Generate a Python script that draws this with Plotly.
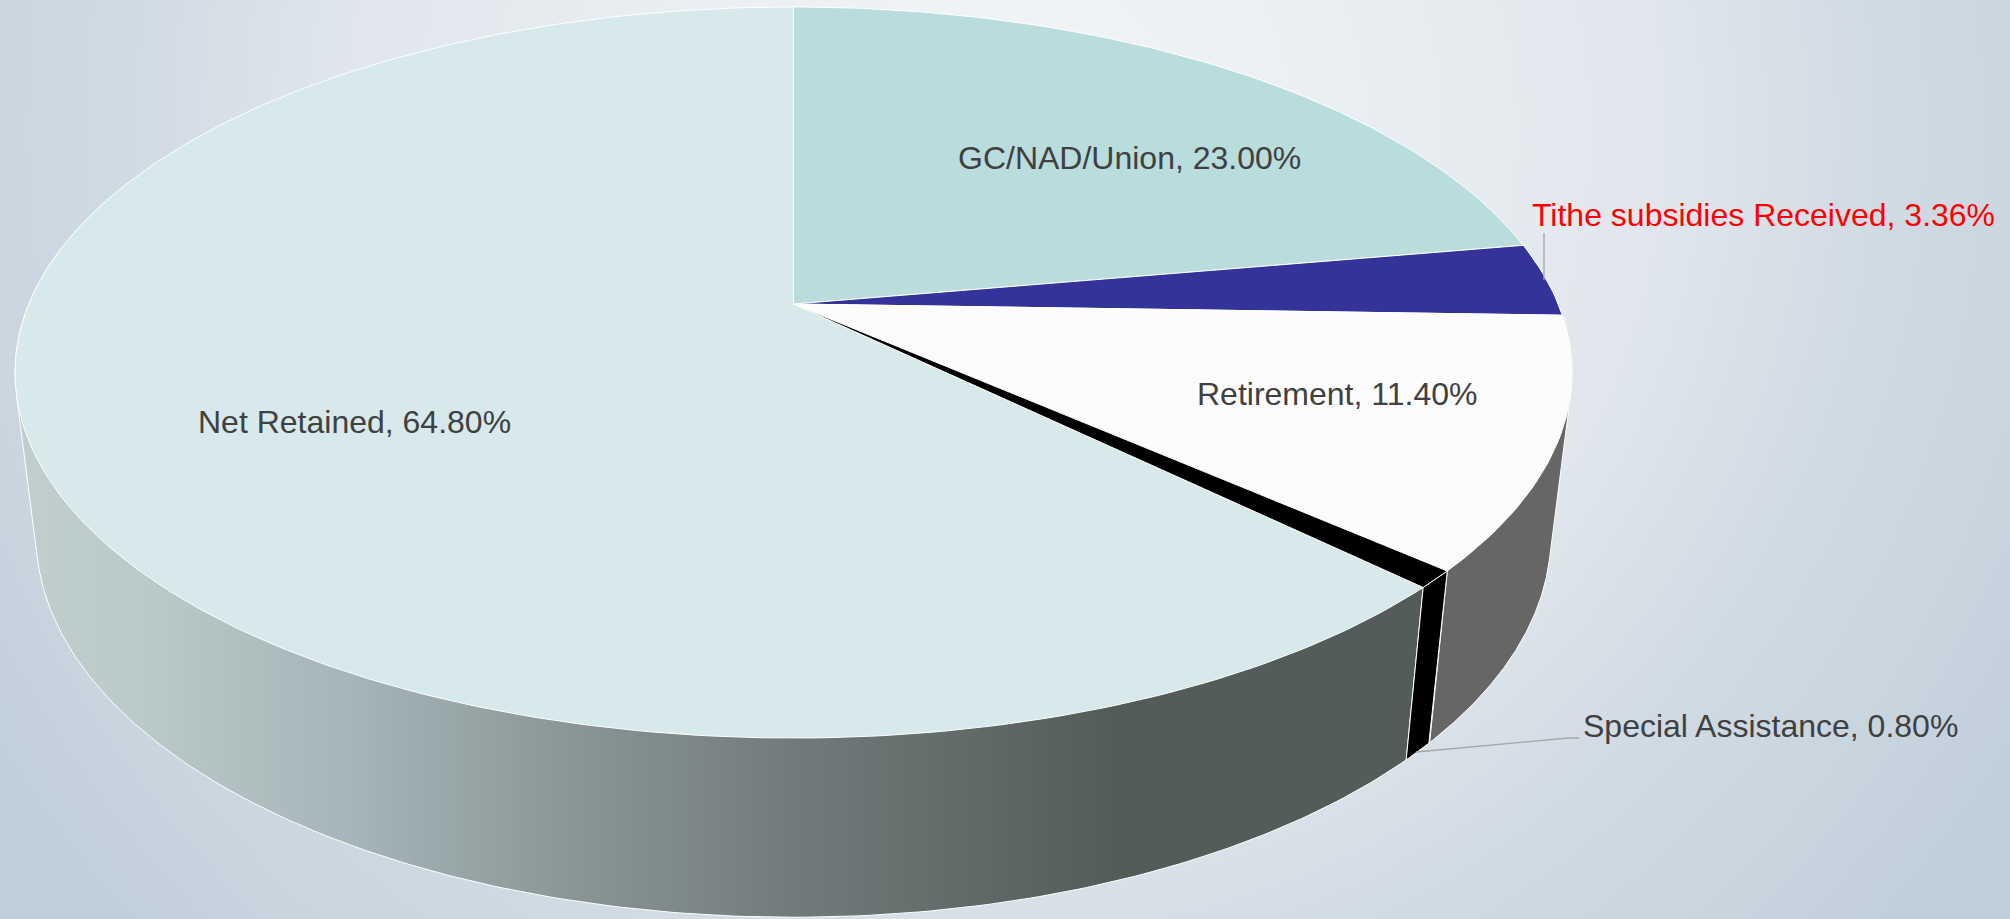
import numpy as np
import plotly.graph_objects as go
from urllib.parse import quote

# ---- data ----
names = ["GC/NAD/Union", "Tithe subsidies Received", "Retirement", "Special Assistance", "Net Retained"]
values = [23.00, 3.36, 11.40, 0.80, 64.80]

# ---- styles ----
top_colors = ["#b9dcdd", "#333399", "#fcfcfc", "#000000", "#d7e9ea"]
rim_colors = ["#b9dcdd", "#333399", "#666666", "#000000", None]
text_colors = ["#404040", "#ff0000", "#404040", "#404040", "#404040"]
label_pos = [(1129, 158), (1763, 215), (1337, 394), (1770, 726), (354, 422)]
W, H = 2010, 919
CX, CY, A, B, K = 793.5, 304.0, 764.7, 352.7, 0.1874
X_SCALE = 0.973


def top_xy(theta):
    u, v = np.sin(theta), np.cos(theta)
    d = 1 + K * v
    return CX + A * u / d, CY - B * v / d


def bottom_xy(theta):
    x, y = top_xy(theta)
    return CX + X_SCALE * (x - CX), y + 146 + 0.045 * y


def hull(xs, ys):
    pts = sorted(set(zip(xs.tolist(), ys.tolist())))

    def half(seq):
        out = []
        for p in seq:
            while len(out) > 1 and (out[-1][0] - out[-2][0]) * (p[1] - out[-2][1]) - (out[-1][1] - out[-2][1]) * (p[0] - out[-2][0]) <= 0:
                out.pop()
            out.append(p)
        return out[:-1]

    ring = half(pts) + half(pts[::-1])
    ring.append(ring[0])
    return [p[0] for p in ring], [p[1] for p in ring]


shares = np.array(values) / sum(values)
edges = np.concatenate([[0], np.cumsum(shares)]) * 2 * np.pi

bg = ('<svg xmlns="http://www.w3.org/2000/svg" width="2010" height="919">'
      '<defs><radialGradient id="g" gradientUnits="userSpaceOnUse" cx="1005" cy="130" r="1200">'
      '<stop offset="0" stop-color="#f3f5f6"/><stop offset="0.24" stop-color="#ecf0f3"/>'
      '<stop offset="0.55" stop-color="#e0e6ec"/><stop offset="0.74" stop-color="#d0dae3"/>'
      '<stop offset="0.87" stop-color="#c9d5df"/><stop offset="1" stop-color="#c1cfdb"/>'
      '</radialGradient></defs><rect width="2010" height="919" fill="url(#g)"/></svg>')

fig = go.Figure()

# side wall (back to front)
FRONT_MIN, FRONT_MAX = np.radians(70), np.radians(290)
grad = [[0, "rgb(192,207,205)"], [0.09, "rgb(186,202,200)"], [0.24, "rgb(165,181,184)"],
        [0.4, "rgb(137,150,149)"], [0.55, "rgb(115,124,124)"], [0.79, "rgb(84,92,90)"],
        [1, "rgb(84,92,90)"]]
for i in [1, 2, 0, 4, 3]:
    a, b = max(edges[i], FRONT_MIN), min(edges[i + 1], FRONT_MAX)
    if a >= b:
        continue
    th = np.linspace(a, b, 240)
    tx, ty = top_xy(th)
    bx, by = bottom_xy(th)
    px, py = hull(np.r_[tx, bx], np.r_[ty, by])
    kw = {}
    if rim_colors[i] is None:
        kw["fillgradient"] = dict(type="horizontal", colorscale=grad, start=20, stop=1404)
    else:
        kw["fillcolor"] = rim_colors[i]
    fig.add_trace(go.Scatter(x=px, y=py, mode="lines", fill="toself",
                             line=dict(color="white", width=1), hoverinfo="skip", showlegend=False, **kw))

# top surface
for i in [4, 0, 1, 2, 3]:
    th = np.linspace(edges[i], edges[i + 1], max(8, int(400 * shares[i])))
    x, y = top_xy(th)
    fig.add_trace(go.Scatter(x=np.r_[CX, x, CX], y=np.r_[CY, y, CY], mode="lines", fill="toself",
                             fillcolor=top_colors[i], line=dict(color="white", width=1),
                             name=names[i], hoverinfo="skip", showlegend=False))

# leader lines
fig.add_trace(go.Scatter(x=[1544, 1544], y=[233, 280], mode="lines",
                         line=dict(color="#a6a6a6", width=1.3), hoverinfo="skip", showlegend=False))
fig.add_trace(go.Scatter(x=[1416, 1568, 1579], y=[752, 738, 738], mode="lines",
                         line=dict(color="#a6a6a6", width=1.3), hoverinfo="skip", showlegend=False))

for i, n in enumerate(names):
    fig.add_annotation(x=label_pos[i][0], y=label_pos[i][1], text=f"{n}, {values[i]:.2f}%", showarrow=False,
                       xanchor="center", yanchor="middle",
                       font=dict(family="Liberation Sans", size=32, color=text_colors[i]))

fig.update_layout(
    width=W, height=H, margin=dict(l=0, r=0, t=0, b=0), paper_bgcolor="#d8e1e9", plot_bgcolor="rgba(0,0,0,0)",
    xaxis=dict(range=[0, W], visible=False, fixedrange=True),
    yaxis=dict(range=[H, 0], visible=False, fixedrange=True),
    images=[dict(source="data:image/svg+xml;charset=utf-8," + quote(bg), xref="paper", yref="paper", x=0, y=1,
                 sizex=1, sizey=1, xanchor="left", yanchor="top", sizing="stretch", layer="below")],
)
fig.write_html("out.html", config={"displayModeBar": False},
               post_script="document.body.style.margin='0';document.body.style.overflow='hidden';")
